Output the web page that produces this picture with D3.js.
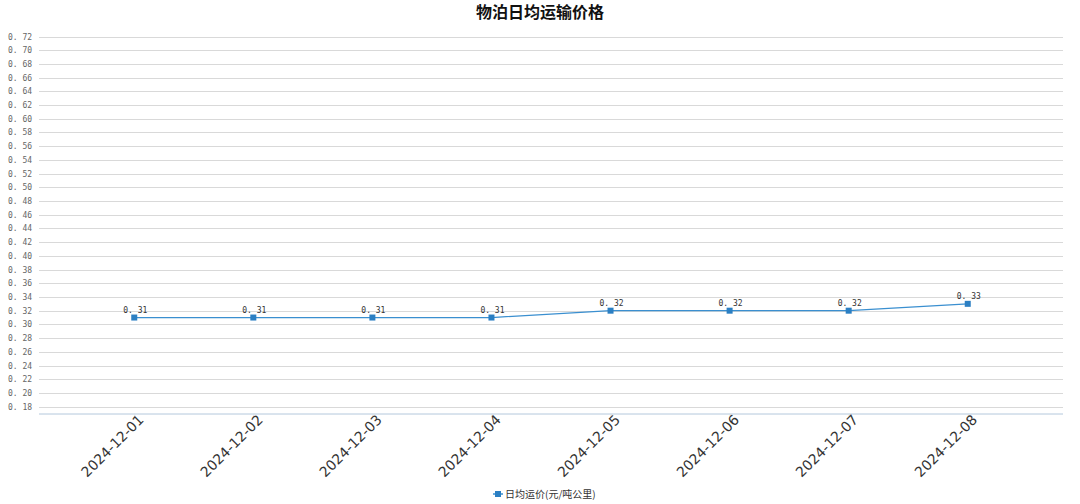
<!DOCTYPE html>
<html>
<head>
<meta charset="utf-8">
<script src="https://cdn.jsdelivr.net/npm/d3@7"></script>
<style>
  body { margin: 0; background: #fff; }
  #chart { width: 1080px; height: 504px; }
</style>
</head>
<body>
<div id="chart"></div>
<script>
// 데이터
const dates = ['2024-12-01', '2024-12-02', '2024-12-03', '2024-12-04', '2024-12-05', '2024-12-06', '2024-12-07', '2024-12-08'];
const prices = [0.31, 0.31, 0.31, 0.31, 0.32, 0.32, 0.32, 0.33];
const yTicks = [0.18, 0.20, 0.22, 0.24, 0.26, 0.28, 0.30, 0.32, 0.34, 0.36, 0.38, 0.40, 0.42, 0.44, 0.46, 0.48,
    0.50, 0.52, 0.54, 0.56, 0.58, 0.60, 0.62, 0.64, 0.66, 0.68, 0.70, 0.72];
const title = '物泊日均运输价格';
const seriesName = '日均运价(元/吨公里)';

const W = 1080, H = 504;
const plotLeft = 39, plotRight = 1063, plotTop = 36.5, plotBottom = 413.5;
const lineColor = '#3a8fd0';

const svg = d3.select('#chart').append('svg')
    .attr('width', W)
    .attr('height', H);

const x = d3.scalePoint()
    .domain(dates)
    .range([plotLeft, plotRight])
    .padding(0.8);

const y = d3.scaleLinear()
    .domain([0.17, 0.72])
    .range([plotBottom, plotTop]);

// 제목
svg.append('text')
    .attr('x', W / 2)
    .attr('y', 18)
    .attr('text-anchor', 'middle')
    .style('font-family', '"Noto Sans CJK SC", sans-serif')
    .style('font-size', '16px')
    .style('font-weight', 'bold')
    .attr('fill', '#111')
    .text(title);

// 그리드
svg.append('g')
    .selectAll('line')
    .data(yTicks)
    .enter().append('line')
    .attr('x1', plotLeft)
    .attr('x2', plotRight)
    .attr('y1', d => Math.round(y(d)) + 0.5)
    .attr('y2', d => Math.round(y(d)) + 0.5)
    .attr('stroke', '#d9d9d9')
    .attr('stroke-width', 1);

// y축 라벨
svg.append('g')
    .selectAll('text')
    .data(yTicks)
    .enter().append('text')
    .attr('x', 8)
    .attr('y', d => y(d) + 3)
    .style('font-family', '"DejaVu Sans Mono", monospace')
    .style('font-size', '8px')
    .attr('fill', '#666')
    .text(d => d3.format('.2f')(d).replace('.', '. '));

// x축
const xAxis = svg.append('g')
    .attr('transform', `translate(0,${plotBottom})`)
    .call(d3.axisBottom(x).tickSize(3).tickSizeOuter(0));
xAxis.select('.domain').attr('stroke', '#b4c8dc').attr('d', `M${plotLeft},0.5H${plotRight}`);
xAxis.selectAll('.tick line').attr('stroke', '#d4e0ea');
xAxis.selectAll('.tick text')
    .attr('fill', '#333')
    .style('font-family', '"DejaVu Sans", sans-serif')
    .style('font-size', '14px')
    .attr('text-anchor', 'end')
    .attr('y', 7)
    .attr('dx', '2')
    .attr('dy', '5')
    .attr('transform', 'rotate(-45)');

// 선
const line = d3.line()
    .x(d => x(d.date))
    .y(d => y(d.value));
const points = dates.map((d, i) => ({ date: d, value: prices[i] }));

svg.append('path')
    .datum(points)
    .attr('fill', 'none')
    .attr('stroke', lineColor)
    .attr('stroke-width', 1.3)
    .attr('d', line);

svg.append('g')
    .selectAll('rect')
    .data(points)
    .enter().append('rect')
    .attr('x', d => x(d.date) - 3)
    .attr('y', d => y(d.value) - 3)
    .attr('width', 6)
    .attr('height', 6)
    .attr('fill', '#2b7fc3');

svg.append('g')
    .selectAll('text')
    .data(points)
    .enter().append('text')
    .attr('x', d => x(d.date) + 1)
    .attr('y', d => y(d.value) - 5)
    .attr('text-anchor', 'middle')
    .style('font-family', '"DejaVu Sans Mono", monospace')
    .style('font-size', '8px')
    .attr('fill', '#333')
    .text(d => d3.format('.2f')(d.value).replace('.', '. '));

// 범례
const lg = svg.append('g').attr('transform', 'translate(493,494)');
lg.append('line').attr('x1', 0).attr('x2', 10).attr('y1', 0).attr('y2', 0)
    .attr('stroke', lineColor).attr('stroke-width', 1.5);
lg.append('rect').attr('x', 2).attr('y', -3).attr('width', 6).attr('height', 6).attr('fill', '#2b7fc3');
lg.append('text')
    .attr('x', 12)
    .attr('y', 4)
    .style('font-family', '"Noto Sans CJK SC", sans-serif')
    .style('font-size', '10px')
    .attr('fill', '#333')
    .text(seriesName);
</script>
</body>
</html>
